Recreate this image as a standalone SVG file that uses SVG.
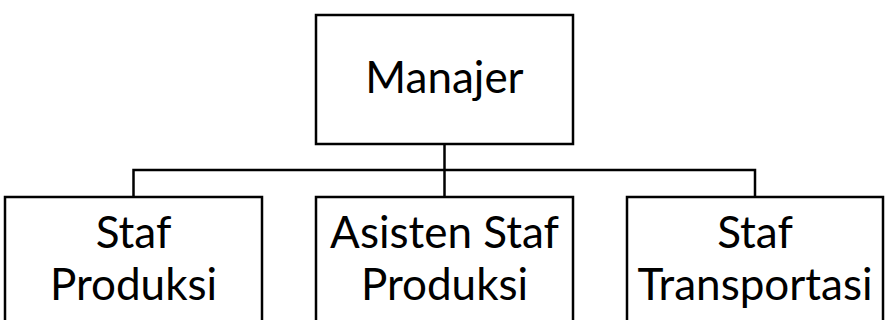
<svg xmlns="http://www.w3.org/2000/svg" width="886" height="320" viewBox="0 0 886 320">
<style>
.box{fill:#fff;stroke:#000;stroke-width:2.5}
.lbl{font-family:Lato,"Open Sans",sans-serif;font-size:44px;fill:#000;text-anchor:middle}
.conn{fill:none;stroke:#000;stroke-width:2.5}
</style>
<rect width="886" height="320" fill="#fff"/>
<g id="connectors">
<path class="conn" d="M444.5 144 V197"/>
<path class="conn" d="M133.5 197 V170 H755 V197"/>
</g>
<g id="manajer">
<rect class="box" x="316" y="15" width="257" height="129"/>
<text class="lbl" x="444.5" y="93">Manajer</text>
</g>
<g id="staf-produksi">
<rect class="box" x="5" y="197" width="257" height="140"/>
<text class="lbl" x="133.5" y="248">Staf</text>
<text class="lbl" x="133.5" y="300">Produksi</text>
</g>
<g id="asisten-staf-produksi">
<rect class="box" x="316" y="197" width="257" height="140"/>
<text class="lbl" x="444.5" y="248">Asisten Staf</text>
<text class="lbl" x="444.5" y="300">Produksi</text>
</g>
<g id="staf-transportasi">
<rect class="box" x="627" y="197" width="256" height="140"/>
<text class="lbl" x="755" y="248">Staf</text>
<text class="lbl" x="755" y="300">Transportasi</text>
</g>
</svg>
